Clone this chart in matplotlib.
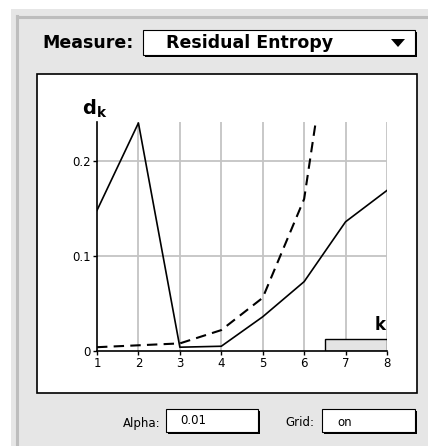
import matplotlib
matplotlib.use('Agg')
import matplotlib.pyplot as plt
from matplotlib.patches import Rectangle, Polygon

# --- Data ---
k_vals = [1, 2, 3, 4, 5, 6, 7, 8]
d_solid = [0.148, 0.240, 0.004, 0.005, 0.036, 0.073, 0.136, 0.169]
d_dashed = [0.004, 0.006, 0.008, 0.022, 0.056, 0.160, 0.450, 0.900]
y_ticks = [0, 0.1, 0.2]
y_tick_labels = ["0", "0.1", "0.2"]
marker_band = (6.5, 8, 0.0126)   # k-range and height of the grey bar

measure_label = "Measure:"
measure_value = "Residual Entropy"
alpha_value = "0.01"
grid_value = "on"

W, H = 428, 446
fig = plt.figure(figsize=(W / 100, H / 100), dpi=100)
fig.patch.set_facecolor('white')

# background "window" drawn in pixel coordinates
bg = fig.add_axes([0, 0, 1, 1])
bg.set_xlim(0, W)
bg.set_ylim(H, 0)
bg.axis('off')
bg.add_patch(Rectangle((11, 9), W - 11, H - 9, facecolor='#e6e6e6', edgecolor='none'))
bg.plot([17.5, 17.5], [16, H], color='#bdbdbd', lw=2.2)
bg.plot([17.5, W], [16.5, 16.5], color='#bdbdbd', lw=2.2)


def box(x0, y0, x1, y1, shadow=True):
    if shadow:
        bg.add_patch(Rectangle((x0 + 2, y0 + 2), x1 - x0, y1 - y0, facecolor='black', edgecolor='none'))
    bg.add_patch(Rectangle((x0, y0), x1 - x0, y1 - y0, facecolor='white', edgecolor='black', lw=0.8))


# plot frame
bg.add_patch(Rectangle((37, 74), 380, 319, facecolor='white', edgecolor='black', lw=1.2))

# dropdown
bg.text(42, 43, measure_label, fontsize=12.5, fontweight='bold', va='center', ha='left')
box(143, 30, 415, 55)
bg.text(166, 43, measure_value, fontsize=12.5, fontweight='bold', va='center', ha='left')
bg.add_patch(Polygon([(391, 39), (405, 39), (398, 47)], closed=True, facecolor='black', edgecolor='none'))

# bottom fields
bg.text(161, 423, "Alpha:", fontsize=8.5, va='center', ha='right')
box(166, 409, 258, 432)
bg.text(180, 421, alpha_value, fontsize=8.5, va='center', ha='left')
bg.text(314, 423, "Grid:", fontsize=8.5, va='center', ha='right')
box(322, 409, 415, 432)
bg.text(337, 422, grid_value, fontsize=8.5, va='center', ha='left')

# --- chart ---
x_px0, x_px1 = 97, 387
y_px0, y_px1 = 351, 122
ax = fig.add_axes([x_px0 / W, (H - y_px0) / H, (x_px1 - x_px0) / W, (y_px0 - y_px1) / H])
ax.patch.set_alpha(0)
ax.set_xlim(1, 8)
ax.set_ylim(0, 0.241)
for s in ['top', 'right']:
    ax.spines[s].set_visible(False)
for s in ['left', 'bottom']:
    ax.spines[s].set_linewidth(1.2)
    ax.spines[s].set_zorder(4)

for k in k_vals[1:]:
    ax.axvline(k, color='#c4c4c4', lw=1.3, zorder=1)
for t in y_ticks[1:]:
    ax.axhline(t, color='#c4c4c4', lw=1.3, zorder=1)

ax.set_xticks(k_vals)
ax.set_xticklabels([str(k) for k in k_vals])
ax.set_yticks(y_ticks)
ax.set_yticklabels(y_tick_labels)
ax.tick_params(axis='both', labelsize=8.5, length=3, width=1, color='black', pad=1.5)

ax.add_patch(Rectangle((marker_band[0], 0), marker_band[1] - marker_band[0], marker_band[2],
                       facecolor='#e4e4e4', edgecolor='black', lw=1, zorder=3))

ax.plot(k_vals, d_solid, color='black', lw=1.2, zorder=5)
ax.plot(k_vals, d_dashed, color='black', lw=1.5, linestyle=(0, (5, 3)), zorder=5, clip_on=True)

ax.text(7.83, 0.027, "k", fontsize=12, fontweight='bold', ha='center', va='center')
ax.text(0.95, 0.255, r"$\mathbf{d_k}$", fontsize=14, ha='center', va='center', clip_on=False)

fig.savefig('out.png', dpi=100)
